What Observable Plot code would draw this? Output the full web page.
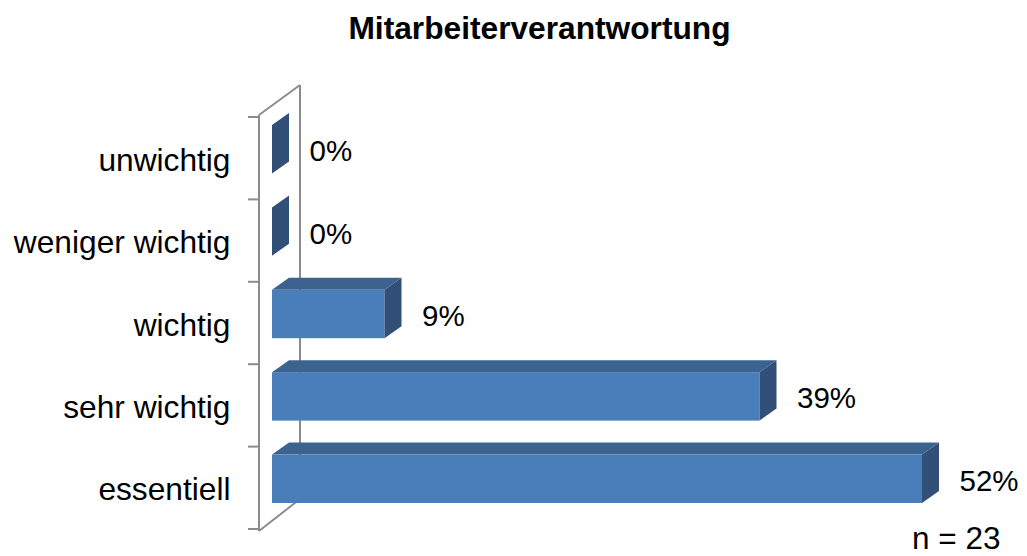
<!DOCTYPE html>
<html>
<head>
<meta charset="utf-8">
<script src="https://cdn.jsdelivr.net/npm/d3@7"></script>
<script src="https://cdn.jsdelivr.net/npm/@observablehq/plot@0.6"></script>
<style>
  html, body { margin: 0; padding: 0; background: #fff; }
  #chart { width: 1027px; height: 556px; }
</style>
</head>
<body>
<div id="chart"></div>
<script>
// ---- data ----
const categories = ["unwichtig", "weniger wichtig", "wichtig", "sehr wichtig", "essentiell"];
const values = [0, 0, 9, 39, 52];
const title = "Mitarbeiterverantwortung";
const note = "n = 23";

const data = categories.map((c, i) => ({category: c, value: values[i]}));

// ---- 3D styling constants ----
const DEPTH_X = 17, DEPTH_Y = 12;       // bar depth
const WALL_DX = 41, WALL_DY = 30;       // wall depth
const WALL_OFFSET = 13;                 // front wall left of bar origin
const INSET_TOP = 8, INSET_BOTTOM = 26;
const FRONT = "#4A7EBB", TOP = "#3C6290", SIDE = "#324F78", WALL = "#8C8C8C";
const FONT = "'Liberation Sans', Arial, sans-serif";

function bandInfo(scales) {
  const y = scales.y;
  const bw = typeof y.bandwidth === "function" ? y.bandwidth() : (y(categories[1]) - y(categories[0]));
  return {y, bw};
}

// wall (axis frame) drawn via scales
function wallMark(index, scales) {
  const x = scales.x;
  const {y, bw} = bandInfo(scales);
  const g = d3.create("svg:g").attr("fill", "none").attr("stroke", WALL).attr("stroke-width", 2);
  const xf = x(0) - WALL_OFFSET;
  const top = y(categories[0]);
  const bottom = y(categories[categories.length - 1]) + bw;
  const edges = categories.map(c => y(c)).concat([bottom]);
  g.append("line").attr("x1", xf + WALL_DX).attr("x2", xf + WALL_DX)
    .attr("y1", top - WALL_DY - 2).attr("y2", bottom - WALL_DY);
  g.append("line").attr("x1", xf).attr("y1", top - 2).attr("x2", xf + WALL_DX).attr("y2", top - WALL_DY - 2);
  g.append("line").attr("x1", xf).attr("y1", bottom + 2).attr("x2", xf + WALL_DX).attr("y2", bottom - WALL_DY);
  g.append("line").attr("x1", xf).attr("x2", xf).attr("y1", top - 2).attr("y2", bottom + 2);
  for (const e of edges) {
    g.append("line").attr("x1", xf - 11).attr("x2", xf).attr("y1", e).attr("y2", e);
  }
  return g.node();
}

// top and side faces of the 3D bars, via scales
function facesMark(index, scales) {
  const x = scales.x;
  const {y, bw} = bandInfo(scales);
  const g = d3.create("svg:g");
  data.forEach(d => {
    const x0 = x(0), x1 = x(d.value);
    const yt = y(d.category) + INSET_TOP;
    const yb = y(d.category) + bw - INSET_BOTTOM;
    g.append("polygon")
      .attr("points", [[x0, yt], [x1, yt], [x1 + DEPTH_X, yt - DEPTH_Y], [x0 + DEPTH_X, yt - DEPTH_Y]].join(" "))
      .attr("fill", TOP);
    g.append("polygon")
      .attr("points", [[x1, yt], [x1 + DEPTH_X, yt - DEPTH_Y], [x1 + DEPTH_X, yb - DEPTH_Y], [x1, yb]].join(" "))
      .attr("fill", SIDE);
  });
  return g.node();
}

const chart = Plot.plot({
  width: 1027,
  height: 556,
  marginLeft: 272,
  marginRight: 5,
  marginTop: 117,
  marginBottom: 27,
  style: {fontFamily: FONT, color: "#000", background: "#fff", overflow: "visible"},
  x: {domain: [0, 60], axis: null},
  y: {domain: categories, padding: 0, round: false},
  marks: [
    wallMark,
    Plot.barX(data, {x: "value", y: "category", insetTop: INSET_TOP, insetBottom: INSET_BOTTOM, fill: FRONT}),
    facesMark,
    Plot.axisY({tickSize: 0, tickPadding: 42, fontSize: 31.7, label: null, dy: 2}),
    Plot.text(data, {x: "value", y: "category", text: d => d.value + "%", textAnchor: "start",
      dx: DEPTH_X + 20, dy: -7, fontSize: 29.5, fill: "#000"}),
    Plot.text([title], {text: d => d, frameAnchor: "top-left", textAnchor: "middle", lineAnchor: "bottom",
      dx: 267, dy: -79, fontSize: 31.7, fontWeight: "bold", fill: "#000"}),
    Plot.text([note], {text: d => d, frameAnchor: "bottom-right", textAnchor: "end", lineAnchor: "bottom",
      dx: -22, dy: 19, fontSize: 31.5, fill: "#000"})
  ]
});
document.getElementById("chart").append(chart);
</script>
</body>
</html>
